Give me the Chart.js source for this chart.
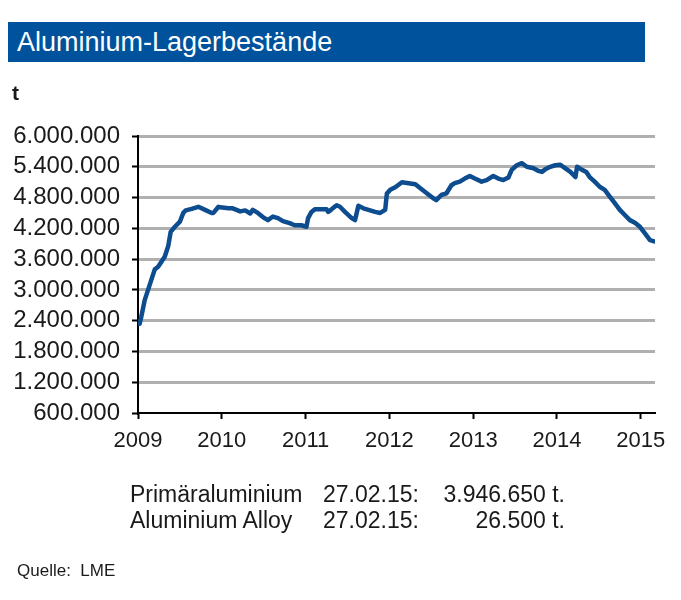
<!DOCTYPE html>
<html>
<head>
<meta charset="utf-8">
<script src="https://cdn.jsdelivr.net/npm/chart.js@4.4.0/dist/chart.umd.min.js"></script>
<style>
  body { margin: 0; background: #fff; font-family: "Liberation Sans", Arial, sans-serif; color: #1a1a1a; }
  #page { position: relative; width: 681px; height: 600px; overflow: hidden; }
  #chart { position: absolute; left: 0; top: 0; }
  .title { position: absolute; left: 8px; top: 22px; width: 637px; height: 40px; box-sizing: border-box;
           padding-left: 9px; background: #00529c; color: #fff; font-size: 27px; line-height: 40px; }
  .unit { position: absolute; left: 12px; top: 81px; font-size: 21px; line-height: 24px; font-weight: bold; }
  .foot { position: absolute; font-size: 23px; line-height: 26px; white-space: nowrap; }
  .src { position: absolute; left: 17px; top: 561px; font-size: 17px; line-height: 19px; }
</style>
</head>
<body>
<div id="page">
  <canvas id="chart" width="681" height="600"></canvas>
  <div class="title">Aluminium-Lagerbestände</div>
  <div class="unit">t</div>

  <div class="foot" style="left:130px; top:481px;">Primäraluminium</div>
  <div class="foot" style="left:323px; top:481px;">27.02.15:</div>
  <div class="foot" style="right:116px; top:481px;">3.946.650 t.</div>
  <div class="foot" style="left:130px; top:507px;">Aluminium Alloy</div>
  <div class="foot" style="left:323px; top:507px;">27.02.15:</div>
  <div class="foot" style="right:116px; top:507px;">26.500 t.</div>

  <div class="src">Quelle:&nbsp; LME</div>
</div>

<script>
// LME stocks (decimal year, tonnes)
const years = [
  2009.02, 2009.04, 2009.08, 2009.12, 2009.16, 2009.20, 2009.24, 2009.28, 2009.32, 2009.36,
  2009.39, 2009.44, 2009.50, 2009.54, 2009.57, 2009.64, 2009.70, 2009.72, 2009.80, 2009.88,
  2009.90, 2009.96, 2009.98, 2010.08, 2010.13, 2010.22, 2010.28, 2010.34, 2010.37, 2010.43,
  2010.49, 2010.55, 2010.61, 2010.67, 2010.73, 2010.81, 2010.87, 2010.95, 2011.01, 2011.03,
  2011.07, 2011.11, 2011.25, 2011.27, 2011.31, 2011.37, 2011.41, 2011.47, 2011.55, 2011.59,
  2011.63, 2011.69, 2011.75, 2011.83, 2011.89, 2011.95, 2011.97, 2012.01, 2012.07, 2012.15,
  2012.23, 2012.31, 2012.37, 2012.45, 2012.52, 2012.56, 2012.62, 2012.68, 2012.74, 2012.78,
  2012.84, 2012.90, 2012.96, 2013.02, 2013.10, 2013.16, 2013.24, 2013.30, 2013.36, 2013.42,
  2013.46, 2013.52, 2013.58, 2013.64, 2013.72, 2013.78, 2013.82, 2013.86, 2013.92, 2013.98,
  2014.04, 2014.10, 2014.16, 2014.22, 2014.24, 2014.30, 2014.35, 2014.39, 2014.45, 2014.51,
  2014.57, 2014.63, 2014.69, 2014.75, 2014.81, 2014.87, 2014.93, 2014.99, 2015.05, 2015.11,
  2015.16
];
const stock = [
  2340000, 2480000, 2800000, 3000000, 3200000, 3400000, 3450000, 3550000, 3650000, 3850000,
  4130000, 4230000, 4330000, 4500000, 4550000, 4580000, 4610000, 4620000, 4560000, 4500000,
  4500000, 4620000, 4610000, 4590000, 4590000, 4530000, 4550000, 4490000, 4560000, 4500000,
  4420000, 4360000, 4430000, 4400000, 4340000, 4300000, 4260000, 4260000, 4230000, 4400000,
  4520000, 4570000, 4570000, 4520000, 4570000, 4650000, 4620000, 4520000, 4400000, 4360000,
  4640000, 4590000, 4560000, 4520000, 4500000, 4560000, 4880000, 4950000, 5000000, 5100000,
  5080000, 5060000, 4980000, 4880000, 4790000, 4750000, 4850000, 4880000, 5040000, 5080000,
  5110000, 5170000, 5220000, 5170000, 5110000, 5140000, 5220000, 5170000, 5140000, 5190000,
  5340000, 5430000, 5470000, 5400000, 5370000, 5320000, 5300000, 5350000, 5400000, 5430000,
  5440000, 5370000, 5300000, 5200000, 5400000, 5340000, 5300000, 5200000, 5110000, 5010000,
  4950000, 4820000, 4690000, 4560000, 4460000, 4360000, 4310000, 4230000, 4100000, 3970000,
  3946650
];

const yearTicks = [2009, 2010, 2011, 2012, 2013, 2014, 2015];
const stockTicks = [600000, 1200000, 1800000, 2400000, 3000000, 3600000, 4200000, 4800000, 5400000, 6000000];

const fontFamily = '"Liberation Sans", Arial, sans-serif';
const fmt = (v) => String(v).replace(/\B(?=(\d{3})+(?!\d))/g, '.');

new Chart(document.getElementById('chart'), {
  type: 'line',
  data: {
    datasets: [{
      data: years.map((y, i) => ({ x: y, y: stock[i] })),
      borderColor: '#0d4c8e',
      borderWidth: 4.5,
      pointRadius: 0,
      tension: 0,
      borderJoinStyle: 'round',
      borderCapStyle: 'round',
      fill: false
    }]
  },
  options: {
    responsive: false,
    animation: false,
    events: [],
    layout: { padding: { left: 0, top: 136, right: 26, bottom: 142 } },
    plugins: {
      legend: { display: false },
      tooltip: { enabled: false }
    },
    scales: {
      x: {
        type: 'linear',
        min: 2009,
        max: 2015.17,
        afterBuildTicks: (s) => { s.ticks = yearTicks.map((v) => ({ value: v })); },
        afterFit: (s) => { s.height = 45; },
        grid: { drawOnChartArea: false, drawTicks: true, tickLength: 6, tickColor: '#000', tickWidth: 2 },
        border: { color: '#000', width: 2 },
        ticks: {
          color: '#1a1a1a',
          font: { family: fontFamily, size: 22 },
          padding: 9,
          maxRotation: 0,
          autoSkip: false,
          callback: (v) => String(v)
        }
      },
      y: {
        min: 600000,
        max: 6000000,
        afterBuildTicks: (s) => { s.ticks = stockTicks.map((v) => ({ value: v })); },
        afterFit: (s) => { s.width = 138; },
        grid: {
          color: (ctx) => (ctx.tick && ctx.tick.value === 600000 ? 'rgba(0,0,0,0)' : '#b0b0b0'),
          lineWidth: 3,
          tickLength: 6,
          tickColor: '#000',
          tickWidth: 2
        },
        border: { color: '#000', width: 2 },
        ticks: {
          color: '#1a1a1a',
          font: { family: fontFamily, size: 24 },
          padding: 12,
          autoSkip: false,
          callback: (v) => fmt(v)
        }
      }
    }
  }
});
</script>
</body>
</html>
